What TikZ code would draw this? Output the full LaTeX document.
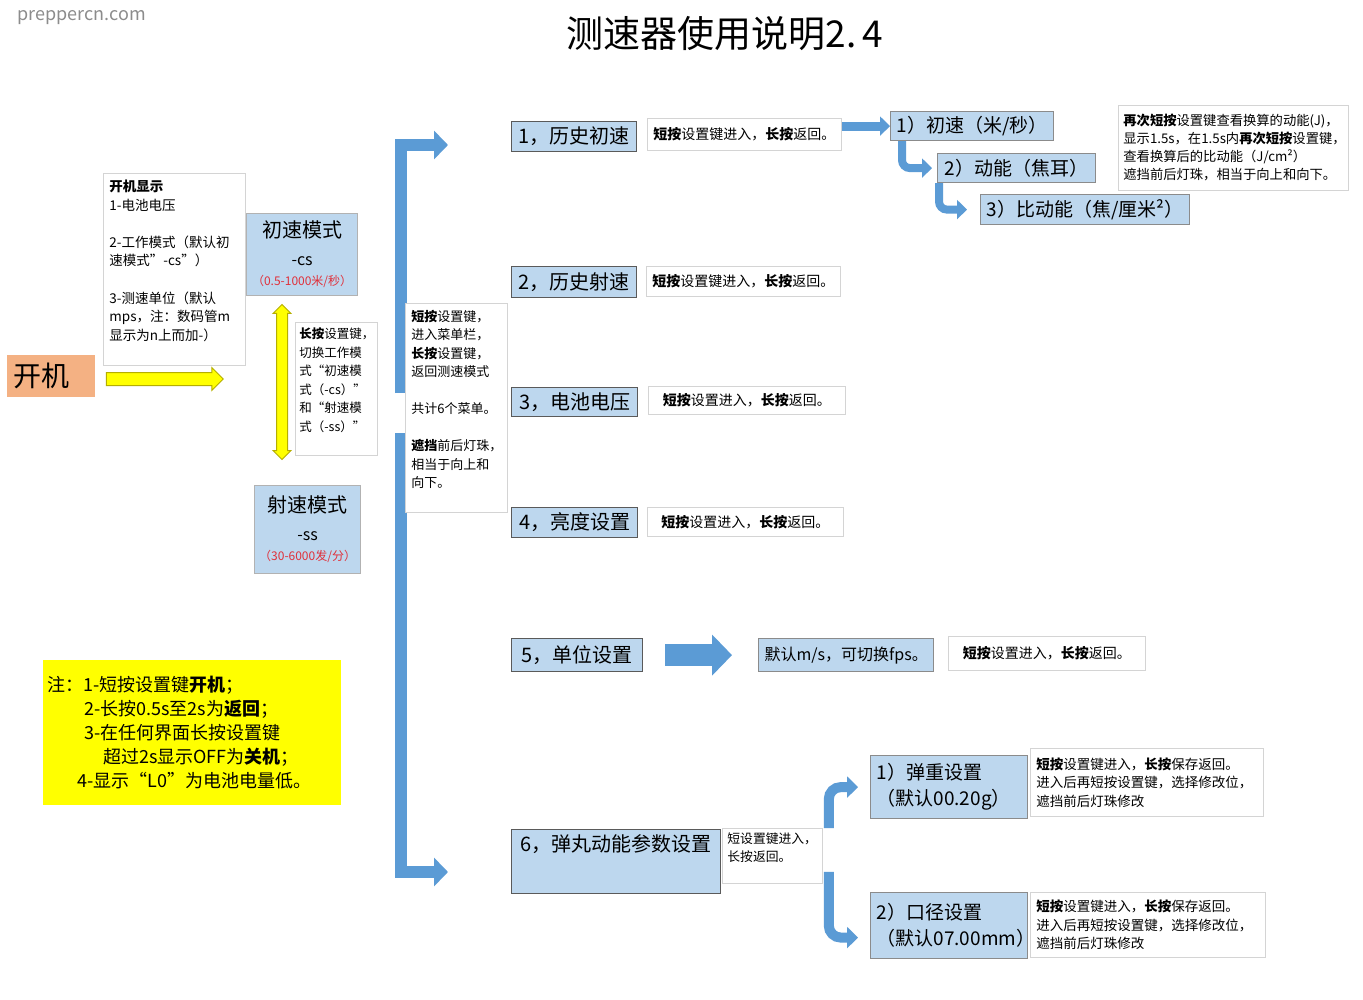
\documentclass[tikz,border=0pt]{standalone}
\usepackage{fontspec}
\setmainfont{Noto Sans CJK SC}
\usetikzlibrary{arrows.meta,shapes.arrows}
\definecolor{boxblue}{HTML}{BDD7EE}
\definecolor{arrowblue}{HTML}{5B9BD5}
\definecolor{edgegray}{HTML}{5A5A5A}
\definecolor{notegray}{HTML}{D4D4D4}
\definecolor{bootorange}{HTML}{F4B183}
\definecolor{noteyellow}{HTML}{FFFF00}
\definecolor{arrowolive}{HTML}{B5AE00}
\definecolor{rangered}{HTML}{E0303A}
\definecolor{markgray}{HTML}{8C8C8C}
\tikzset{
  bluebox/.style={anchor=north west, fill=boxblue, draw=edgegray, line width=1.2pt,
    inner xsep=6pt, inner ysep=2pt, font=\fontsize{20}{24}\selectfont},
  subbox/.style={bluebox, draw=edgegray!70, font=\fontsize{19}{23}\selectfont},
  modebox/.style={bluebox, draw=gray!60, align=center, inner xsep=2pt, font=\fontsize{13}{22}\selectfont},
  notebox/.style={anchor=north west, fill=white, draw=notegray, line width=0.8pt,
    inner xsep=6pt, inner ysep=2pt, align=left, font=\fontsize{13.5}{18.6}\selectfont},
  descbox/.style={notebox, font=\fontsize{14}{18}\selectfont},
  fatarrow/.style={draw=arrowblue, line width=12pt, -{Triangle[length=14pt,width=28pt]}},
  bendarrow/.style={draw=arrowblue, line width=8pt, rounded corners=8pt,
    -{Triangle[length=10pt,width=19pt]}},
  yarrow/.style={single arrow, fill=noteyellow, draw=arrowolive, line width=1pt,
    single arrow head extend=5pt, inner xsep=0pt, inner ysep=6pt},
  ydarrow/.style={double arrow, fill=noteyellow, draw=arrowolive, line width=1pt,
    double arrow head extend=3.5pt, inner xsep=0pt, inner ysep=5pt},
}
\begin{document}
\begin{tikzpicture}[x=1pt,y=-1pt]
\fill[white] (0,0) rectangle (1363,1000);
\useasboundingbox (0,0) rectangle (1363,1000);

% title
\node[text=markgray, font=\fontsize{18}{20}\selectfont, anchor=west] (mark) at (14,18) {preppercn.com};
\node[font=\fontsize{37}{40}\selectfont] (title) at (725,34) {测速器使用说明2.\hspace{6pt}4};

% power on and the two modes
\node[anchor=north west, fill=bootorange, minimum width=88pt, minimum height=42pt, text width=76pt,
  inner xsep=6pt, align=left, font=\fontsize{28}{30}\selectfont] (boot) at (7,355) {开机};
\node[yarrow, minimum height=117pt, minimum width=22pt] (bootarrow) at (161.5,379) {};
\node[notebox, minimum width=142pt, minimum height=192pt, text width=130pt] (bootinfo) at (103,173)
  {\textbf{开机显示}\\1-电池电压\\[18.6pt]2-工作模式（默认初\\速模式”-cs”）\\[18.6pt]3-测速单位（默认\\mps，注：数码管m\\显示为n上而加-）\\ \mbox{}};
\node[modebox, minimum width=111pt, minimum height=82pt] (csmode) at (246,213)
  {{\fontsize{20}{24}\selectfont 初速模式}\\[6pt]{\fontsize{16}{18}\selectfont -cs}\\[-2pt]{\fontsize{12}{14}\selectfont\color{rangered}（0.5-1000米/秒）}};
\node[ydarrow, minimum height=155pt, minimum width=17pt, rotate=90] (modearrow) at (282,382) {};
\node[notebox, minimum width=82pt, minimum height=133pt, text width=74pt, inner xsep=4pt,
  font=\fontsize{12.5}{18.6}\selectfont] (modenote) at (295,322)
  {\textbf{长按}设置键，\\切换工作模\\式“初速模\\式（-cs）”\\和“射速模\\式（-ss）”\\ \mbox{}};
\node[modebox, minimum width=106pt, minimum height=88pt] (ssmode) at (254,485)
  {{\fontsize{20}{24}\selectfont 射速模式}\\[6pt]{\fontsize{16}{18}\selectfont -ss}\\[-2pt]{\fontsize{12}{14}\selectfont\color{rangered}（30-6000发/分）}};

% menu bracket
\coordinate (menutop) at (448,145);
\coordinate (menubot) at (448,872);
\draw[fatarrow] (401,393) |- (menutop);
\draw[fatarrow] (401,433) |- (menubot);
\node[notebox, minimum width=102pt, minimum height=209pt, text width=90pt,
  font=\fontsize{13}{18.5}\selectfont] (menunote) at (405,303)
  {\textbf{短按}设置键，\\进入菜单栏，\\\textbf{长按}设置键，\\返回测速模式\\[18.5pt]共计6个菜单。\\[18.5pt]\textbf{遮挡}前后灯珠，\\相当于向上和\\向下。\\ \mbox{}};

% menu items
\node[bluebox, minimum width=125pt, minimum height=30pt] (item1) at (511,121) {1，历史初速};
\node[bluebox, minimum width=125pt, minimum height=31pt] (item2) at (511,266) {2，历史射速};
\node[bluebox, minimum width=126pt, minimum height=29pt] (item3) at (511,387) {3，电池电压};
\node[bluebox, minimum width=126pt, minimum height=30pt] (item4) at (511,507) {4，亮度设置};
\node[bluebox, minimum width=131pt, minimum height=33pt] (item5) at (511,638) {5，单位设置};
\node[bluebox, minimum width=209pt, minimum height=64pt, text height=14pt, text depth=34pt,
  inner ysep=8pt] (item6) at (511,829) {6，弹丸动能参数设置};

\node[descbox, minimum width=188pt, minimum height=32pt] (desc1) at (647,118) {\textbf{短按}设置键进入，\textbf{长按}返回。};
\node[descbox, minimum width=194pt, minimum height=30pt] (desc2) at (646,266) {\textbf{短按}设置键进入，\textbf{长按}返回。};
\node[descbox, minimum width=197pt, minimum height=28pt] (desc3) at (648,386) {\textbf{短按}设置进入，\textbf{长按}返回。};
\node[descbox, minimum width=196pt, minimum height=29pt] (desc4) at (647,507) {\textbf{短按}设置进入，\textbf{长按}返回。};

% history speed
\node[subbox, minimum width=157pt, minimum height=29pt] (sub1) at (890,111) {1）初速（米/秒）};
\node[subbox, minimum width=158pt, minimum height=29pt] (sub2) at (937,153) {2）动能（焦耳）};
\node[subbox, minimum width=207pt, minimum height=30pt] (sub3) at (980,194) {3）比动能（焦/厘米²）};
\draw[draw=arrowblue, line width=9pt, -{Triangle[length=10pt,width=19pt]}] (desc1.east |- sub1.west) -- (sub1.west);
\draw[bendarrow] ([xshift=12pt]sub1.south west) |- ([xshift=-5pt]sub2.west);
\draw[bendarrow] ([xshift=2pt]sub2.south west) |- ([xshift=-13pt]sub3.west);
\node[notebox, minimum width=230pt, minimum height=85pt, text width=220pt, inner xsep=5pt,
  font=\fontsize{13.3}{18}\selectfont] (kenote) at (1118,105)
  {\textbf{再次短按}设置键查看换算的动能(J)，\\显示1.5s，在1.5s内\textbf{再次短按}设置键，\\查看换算后的比动能（J/cm²）\\遮挡前后灯珠，相当于向上和向下。};

% unit
\node[subbox, minimum width=170pt, minimum height=33pt, font=\fontsize{16}{20}\selectfont] (unit) at (758,638) {默认m/s，可切换fps。};
\draw[draw=arrowblue, line width=22pt, -{Triangle[length=20pt,width=40pt]}] ([xshift=22pt]item5.east) -- ([xshift=-26pt]unit.west);
\node[descbox, minimum width=197pt, minimum height=34pt] (desc5) at (948,636) {\textbf{短按}设置进入，\textbf{长按}返回。};

% pellet settings
\node[notebox, minimum width=100pt, minimum height=55pt, text width=90pt, inner xsep=5pt,
  font=\fontsize{12.8}{18}\selectfont] (desc6) at (722,828) {短设置键进入，\\长按返回。\\ \mbox{}};
\node[subbox, minimum width=157pt, minimum height=63pt, text width=145pt, align=left,
  font=\fontsize{19}{26}\selectfont] (weight) at (870,755) {1）弹重设置\\（默认00.20g）};
\node[subbox, minimum width=157pt, minimum height=66pt, text width=145pt, align=left,
  font=\fontsize{19}{26}\selectfont] (calib) at (870,892) {2）口径设置\\（默认07.00mm）};
\draw[bendarrow, line width=10pt, rounded corners=12pt, -{Triangle[length=11pt,width=21pt]}]
  ([xshift=6pt]desc6.north east) |- ([xshift=-12pt]weight.west);
\draw[bendarrow, line width=10pt, rounded corners=12pt, -{Triangle[length=11pt,width=21pt]}]
  ([xshift=6pt,yshift=12pt]desc6.south east) |- ([xshift=-12pt,yshift=-12pt]calib.west);
\node[notebox, minimum width=233pt, minimum height=68pt, text width=221pt] (weightnote) at (1030,748)
  {\textbf{短按}设置键进入，\textbf{长按}保存返回。\\进入后再短按设置键，选择修改位，\\遮挡前后灯珠修改};
\node[notebox, minimum width=235pt, minimum height=65pt, text width=223pt] (calibnote) at (1030,892)
  {\textbf{短按}设置键进入，\textbf{长按}保存返回。\\进入后再短按设置键，选择修改位，\\遮挡前后灯珠修改};

% notes
\node[anchor=north west, fill=noteyellow, minimum width=298pt, minimum height=145pt, text width=290pt,
  inner xsep=4pt, align=left, font=\fontsize{18}{24}\selectfont] (tips) at (43,660)
  {注：1-短按设置键\textbf{开机}；\\\hspace*{37pt}2-长按0.5s至2s为\textbf{返回}；\\\hspace*{37pt}3-在任何界面长按设置键\\\hspace*{56pt}超过2s显示OFF为\textbf{关机}；\\\hspace*{30pt}4-显示“L0”为电池电量低。};
\end{tikzpicture}
\end{document}
